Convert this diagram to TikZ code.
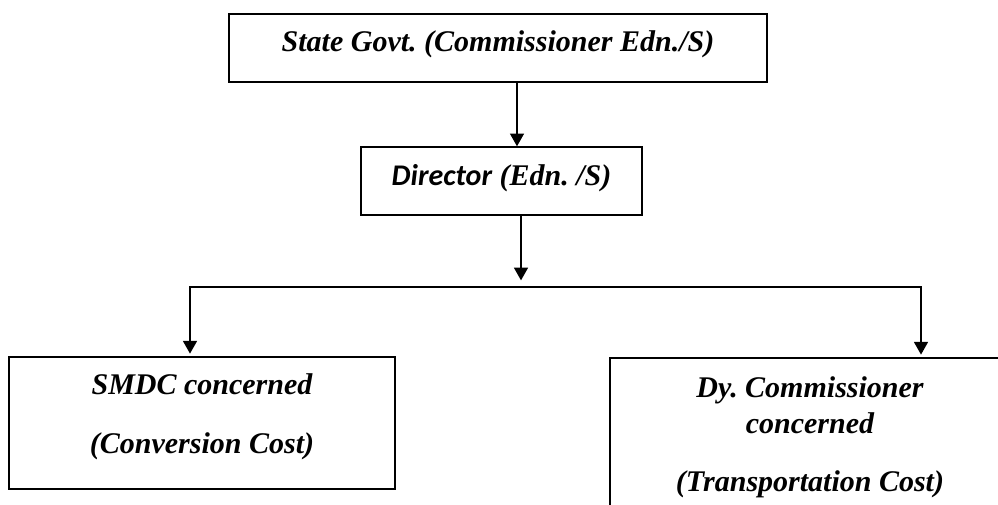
\documentclass[tikz,border=0pt]{standalone}
\usepackage{fontspec}
\setmainfont{Liberation Serif}[BoldItalicFont={Liberation Serif Bold Italic}]
\newfontfamily\calfont{Carlito}[BoldItalicFont={Carlito Bold Italic}]
\usetikzlibrary{arrows.meta}
\frenchspacing

\begin{document}
\begin{tikzpicture}[x=0.75pt,y=-0.75pt,
  >={Triangle[length=9.5pt,width=10.5pt]},
  box/.style={draw, line width=1.1pt, inner sep=0pt, align=center,
    font=\fontsize{22.5}{26.5}\selectfont\bfseries\itshape},
  link/.style={line width=0.9pt}]
\path[use as bounding box, fill=white] (0,0) rectangle (998,504);
\node[box, minimum width=403.5pt, minimum height=51pt, text depth=11pt] (gov) at (498,48)
  {State Govt. (Commissioner Edn./S)};
\node[box, minimum width=210.75pt, minimum height=51pt, text depth=9.5pt] (dir) at (501.5,181)
  {{\calfont Director} (Edn. /S)};
\node[box, minimum width=289.5pt, minimum height=99pt, text depth=14pt] (smdc) at (202,423)
  {SMDC concerned\\[18pt](Conversion Cost)};
\node[box, minimum width=300pt, minimum height=114pt, text depth=0pt] (dyc) at (810,434)
  {Dy. Commissioner\\concerned\\[17pt](Transportation Cost)};
\coordinate (fl) at (190,287) ;
\coordinate (fr) at (921,287) ;
\draw[link, ->] (gov.south) ++(19,0) coordinate (g1) -- (g1 |- dir.north) ;
\draw[link, ->, shorten >=5pt] (dir.south) ++(19.5,0) coordinate (d1) -- (d1 |- fl) ;
\draw[link, <->, shorten <=2pt, shorten >=2pt] (fl |- smdc.north) -- (fl)
   -- (fr) -- (fr |- dyc.north) ;
\end{tikzpicture}
\end{document}
